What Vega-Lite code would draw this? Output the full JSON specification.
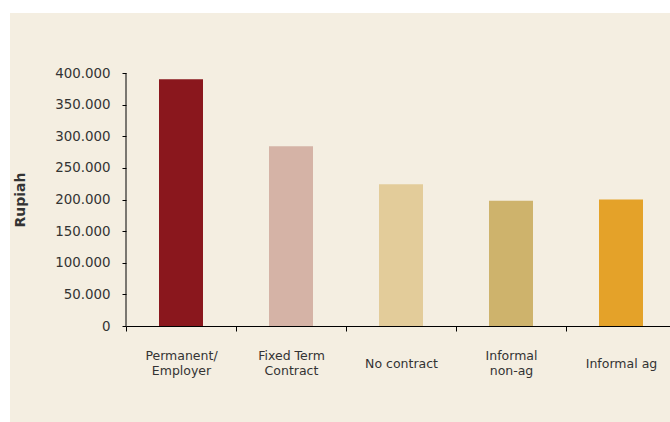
{
  "$schema": "https://vega.github.io/schema/vega-lite/v6.json",
  "width": 660,
  "height": 409,
  "autosize": {"type": "none"},
  "padding": {"left": 10, "top": 13, "right": 0, "bottom": 0},
  "background": "#ffffff",
  "config": {
    "view": {"fill": "#F4EEE1", "stroke": null},
    "locale": {"number": {"decimal": ",", "thousands": ".", "grouping": [3], "currency": ["", ""]}}
  },
  "data": {
    "values": [
      {"category": "Permanent/Employer", "value": 390000},
      {"category": "Fixed Term Contract", "value": 284000},
      {"category": "No contract", "value": 224000},
      {"category": "Informal non-ag", "value": 198000},
      {"category": "Informal ag", "value": 200000}
    ]
  },
  "layer": [
    {
      "mark": {"type": "bar", "width": {"band": 0.4}},
      "encoding": {
        "x": {
          "field": "category",
          "type": "nominal",
          "sort": null,
          "scale": {
            "domain": ["Permanent/Employer", "Fixed Term Contract", "No contract", "Informal non-ag", "Informal ag"],
            "range": [116, 666],
            "paddingInner": 0,
            "paddingOuter": 0
          },
          "axis": {
            "title": null,
            "orient": "bottom",
            "offset": -96,
            "labelAngle": 0,
            "tickBand": "extent",
            "domainColor": "#000000",
            "tickColor": "#000000",
            "tickSize": 5,
            "labelPadding": {
              "condition": {"test": "datum.value == 'No contract' || datum.value == 'Informal ag'", "value": 32},
              "value": 24.5
            },
            "labelBaseline": "middle",
            "labelFont": "DejaVu Sans",
            "labelFontSize": 12.5,
            "labelColor": "#333333",
            "labelLineHeight": 14.5,
            "labelLimit": 0,
            "labelExpr": "datum.label == 'Permanent/Employer' ? ['Permanent/', 'Employer'] : datum.label == 'Fixed Term Contract' ? ['Fixed Term', 'Contract'] : datum.label == 'Informal non-ag' ? ['Informal', 'non-ag'] : datum.label"
          }
        },
        "y": {
          "field": "value",
          "type": "quantitative",
          "scale": {"domain": [-151778, 494862], "nice": false, "zero": false},
          "axis": {
            "title": "Rupiah",
            "values": [0, 50000, 100000, 150000, 200000, 250000, 300000, 350000, 400000],
            "format": ",d",
            "domain": false,
            "grid": false,
            "offset": -116,
            "tickColor": "#000000",
            "tickSize": 4,
            "labelPadding": 12,
            "labelFont": "DejaVu Sans",
            "labelFontSize": 13.4,
            "labelColor": "#333333",
            "titleFont": "DejaVu Sans",
            "titleFontSize": 14,
            "titleFontWeight": "bold",
            "titleColor": "#333333",
            "titleX": -106,
            "titleY": 186.5,
            "titleBaseline": "middle",
            "titleAlign": "center"
          }
        },
        "y2": {"datum": 0},
        "color": {
          "field": "category",
          "type": "nominal",
          "scale": {
            "domain": ["Permanent/Employer", "Fixed Term Contract", "No contract", "Informal non-ag", "Informal ag"],
            "range": ["#8A171D", "#D5B3A6", "#E3CC9A", "#CEB36C", "#E4A229"]
          },
          "legend": null
        }
      }
    },
    {
      "data": {"values": [{"c": "Permanent/Employer", "lo": 0, "hi": 400000}]},
      "mark": {"type": "rule", "color": "#000000", "strokeWidth": 1},
      "encoding": {
        "x": {"field": "c", "type": "nominal", "sort": null, "bandPosition": 0},
        "y": {"field": "lo", "type": "quantitative"},
        "y2": {"field": "hi"}
      }
    }
  ]
}
